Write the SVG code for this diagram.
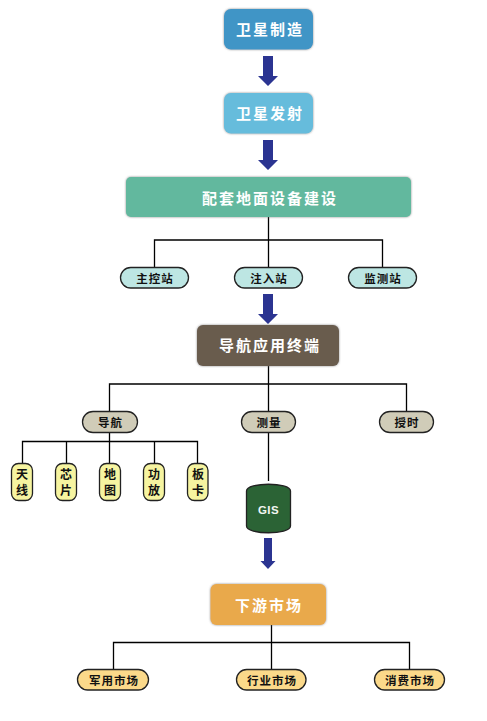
<svg xmlns="http://www.w3.org/2000/svg" width="487" height="721" viewBox="0 0 487 721">
<style>
text{font-family:"Noto Sans CJK SC","Noto Sans CJK TC",sans-serif;text-anchor:middle;font-weight:700}
.big{fill:#fff;font-size:15px;letter-spacing:2px}
.pill{stroke:#222;stroke-width:1.3}
.small{fill:#111;font-size:11.500px;letter-spacing:1px}
.v{fill:#111;font-size:12px}
.line{fill:none;stroke:#000;stroke-width:1.3}
.arrow{fill:#2b3491}
.box{filter:url(#glow)}
</style>
<defs>
<filter id="glow" x="-10%" y="-20%" width="120%" height="140%"><feDropShadow dx="0" dy="0" stdDeviation="1.200" flood-color="#777" flood-opacity="0.850"/></filter>
<path id="ar" class="arrow" d="M263 0H273V20H278L268 30L258 20H263Z"/>
</defs>
<g id="connectors">
<path class="line" d="M268.500 217V267M154.500 267V240H382.500V267"/>
<path class="line" d="M268.500 366V411M109.500 411V384H406.500V411"/>
<path class="line" d="M109.500 433V463M22.500 463V441.500H197.500V463M66.500 441.500V463M154.500 441.500V463"/>
<path class="line" d="M268.500 433V481"/>
<path class="line" d="M271.500 624V669M113.500 669V642.500H409.500V669"/>
<use href="#ar" y="56"/>
<use href="#ar" y="140"/>
<use href="#ar" y="294"/>
<path class="arrow" d="M264 538H272V561H275.500L268 569L260.500 561H264Z"/>
</g>
<g id="n1"><rect class="box" x="224" y="9" width="89" height="40.500" rx="7" fill="#3f95c6"/><text class="big" x="270" y="35">卫星制造</text></g>
<g id="n2"><rect class="box" x="224" y="93" width="89" height="40.500" rx="7" fill="#66bcdc"/><text class="big" x="270" y="119">卫星发射</text></g>
<g id="n3"><rect class="box" x="126" y="177" width="285" height="40" rx="5" fill="#62b89e"/><text class="big" x="270" y="204">配套地面设备建设</text></g>
<g id="n4"><rect class="pill" x="120.500" y="267.500" width="68" height="20.500" rx="10.200" fill="#bde6e3"/><text class="small" x="155" y="283">主控站</text></g>
<g id="n5"><rect class="pill" x="234.500" y="267.500" width="68" height="20.500" rx="10.200" fill="#bde6e3"/><text class="small" x="269" y="283">注入站</text></g>
<g id="n6"><rect class="pill" x="348.500" y="267.500" width="68" height="20.500" rx="10.200" fill="#bde6e3"/><text class="small" x="383" y="283">监测站</text></g>
<g id="n7"><rect class="box" x="197" y="325" width="142" height="41" rx="6" fill="#695b4d"/><text class="big" x="270" y="351">导航应用终端</text></g>
<g id="n8"><rect class="pill" x="82.500" y="411.500" width="55" height="21" rx="10.500" fill="#d0ccb8"/><text class="small" x="110.500" y="427">导航</text></g>
<g id="n9"><rect class="pill" x="241.500" y="411.500" width="54" height="21" rx="10.500" fill="#d0ccb8"/><text class="small" x="269" y="427">测量</text></g>
<g id="n10"><rect class="pill" x="379.500" y="411.500" width="54" height="21" rx="10.500" fill="#d0ccb8"/><text class="small" x="407" y="427">授时</text></g>
<g id="n11"><rect class="pill" x="11.500" y="463.500" width="21" height="37" rx="7" fill="#f6f4a0"/><text class="v" x="22" y="479">天</text><text class="v" x="22" y="495">线</text></g>
<g id="n12"><rect class="pill" x="55.500" y="463.500" width="21" height="37" rx="7" fill="#f6f4a0"/><text class="v" x="66" y="479">芯</text><text class="v" x="66" y="495">片</text></g>
<g id="n13"><rect class="pill" x="99.500" y="463.500" width="21" height="37" rx="7" fill="#f6f4a0"/><text class="v" x="110" y="479">地</text><text class="v" x="110" y="495">图</text></g>
<g id="n14"><rect class="pill" x="143.500" y="463.500" width="21" height="37" rx="7" fill="#f6f4a0"/><text class="v" x="154" y="479">功</text><text class="v" x="154" y="495">放</text></g>
<g id="n15"><rect class="pill" x="187.500" y="463.500" width="20.500" height="37" rx="7" fill="#f6f4a0"/><text class="v" x="198" y="479">板</text><text class="v" x="198" y="495">卡</text></g>
<g id="n16"><path class="pill" fill="#2b6335" d="M246.500 491C246.500 482 290.500 482 290.500 491V526C290.500 535 246.500 535 246.500 526Z"/><text x="268.500" y="514" style="font-family:'Liberation Sans',sans-serif;font-size:11.500px;letter-spacing:.4px" fill="#f2f6f2">GIS</text></g>
<g id="n17"><rect class="box" x="210.500" y="584" width="115.500" height="41" rx="6" fill="#e9a94b"/><text class="big" x="269" y="611">下游市场</text></g>
<g id="n18"><rect class="pill" x="77.500" y="669.500" width="71" height="20.500" rx="10.200" fill="#fbd98a"/><text class="small" x="114" y="685">军用市场</text></g>
<g id="n19"><rect class="pill" x="236.500" y="669.500" width="69.500" height="20.500" rx="10.200" fill="#fbd98a"/><text class="small" x="272" y="685">行业市场</text></g>
<g id="n20"><rect class="pill" x="374.500" y="669.500" width="70" height="20.500" rx="10.200" fill="#fbd98a"/><text class="small" x="410" y="685">消费市场</text></g>
</svg>
